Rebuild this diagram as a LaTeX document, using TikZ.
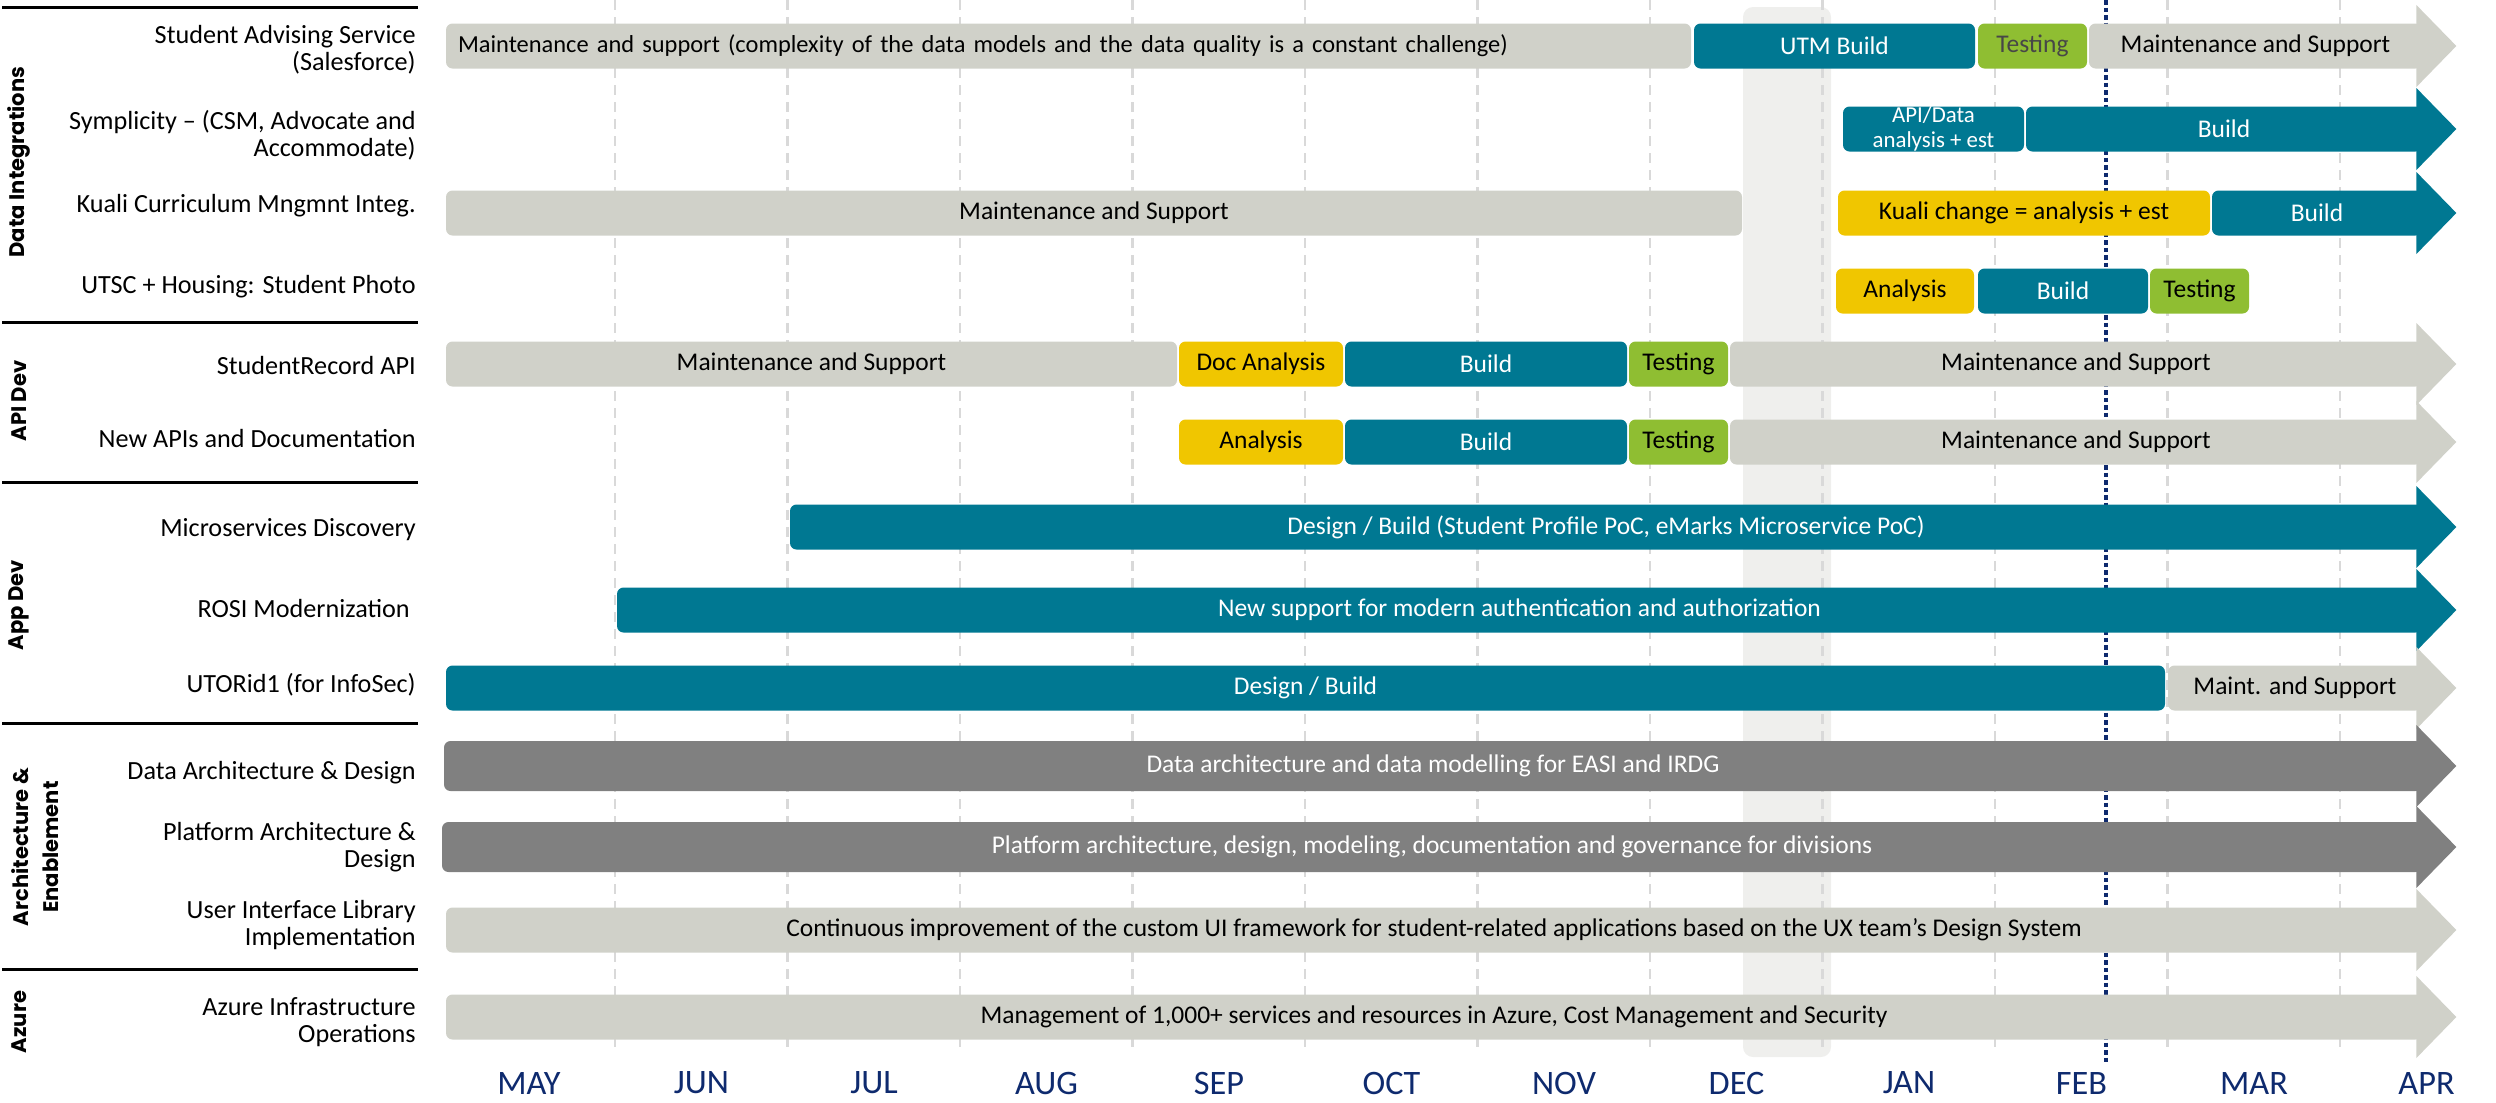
\documentclass[tikz,border=0pt]{standalone}
\usepackage{fontspec}
\setmainfont{Carlito}
\newfontfamily\catfont{Poppins}
\usepackage{tikz}
\usetikzlibrary{positioning}

\definecolor{maintgrey}{HTML}{D0D1C9}
\definecolor{buildteal}{HTML}{007892}
\definecolor{analyellow}{HTML}{F0C600}
\definecolor{testgreen}{HTML}{8FBE32}
\definecolor{archgrey}{HTML}{808080}
\definecolor{decband}{HTML}{EFEFED}
\definecolor{gridgrey}{HTML}{D9D9D9}
\definecolor{monthnavy}{HTML}{0E2A6E}

% one bar of the roadmap: name, style, from x, to x, y, text
\newcommand{\task}[6]{\node[#2, minimum width={(#4-#3)*0.2mm}] (#1) at ({(#3+#4)/2},#5) {#6};}
% arrow head on the right end of a bar
\newcommand{\taskhead}[2]{\fill[#2] (#1.east) ++(-6,-41) -- ++(40,41) -- ++(-40,41) -- cycle;}

\begin{document}
\begin{tikzpicture}[x=0.2mm, y=-0.2mm,
    bar/.style={rounded corners=1.3mm, inner sep=0pt, minimum height=9mm,
        font=\fontsize{14.5}{15}\selectfont},
    maintbar/.style={bar, fill=maintgrey, text=black},
    buildbar/.style={bar, fill=buildteal, text=white},
    analbar/.style={bar, fill=analyellow, text=black},
    testbar/.style={bar, fill=testgreen, text=black},
    archbar/.style={bar, fill=archgrey, text=white, minimum height=10mm},
    rowlabel/.style={anchor=east, align=right, inner sep=0pt,
        font=\fontsize{14.9}{15.6}\selectfont},
    catlabel/.style={rotate=90, align=center, inner sep=0pt,
        font=\catfont\bfseries\fontsize{12}{17}\selectfont},
    monthlabel/.style={text=monthnavy, font=\fontsize{19.5}{20}\selectfont},
    gridline/.style={gridgrey, line width=0.45mm, dash pattern=on 2mm off 1.4mm},
    febline/.style={monthnavy, line width=0.8mm, dash pattern=on 0.9mm off 0.6mm},
    sepline/.style={black, line width=0.6mm}]
    \useasboundingbox (0,0) rectangle (2496,1102);

    % December freeze and month grid
    \fill[decband, rounded corners=2mm] (1743,7) rectangle (1831,1057);
    \foreach \i in {0,...,10}
        \draw[gridline] ({615+172.5*\i},0) -- ({615+172.5*\i},1052);
    \draw[febline] (2106,0) -- (2106,1062);

    % Section rules and names
    \foreach \y in {7,322,482,723,969}
        \draw[sepline] (2,\y) -- (418,\y);
    \node[catlabel] (dint) at (19,162) {Data Integrations};
    \node[catlabel] (apid) at (19,401) {API Dev};
    \node[catlabel] (appd) at (19,605) {App Dev};
    \node[catlabel] (arch) at (35,847) {Architecture \&\\Enablement};
    \node[catlabel] (azur) at (19,1022) {Azure};

    % Row names
    \foreach \y/\txt [count=\i] in {
        50/{Student Advising Service\\(Salesforce)},
        135/{Symplicity -- (CSM, Advocate and\\Accommodate)},
        206/{Kuali Curriculum Mngmnt Integ.},
        287/{UTSC + Housing: Student Photo},
        365/{StudentRecord API},
        438/{New APIs and Documentation},
        530/{Microservices Discovery},
        608/{ROSI Modernization\ },
        685/{UTORid1 (for InfoSec)},
        773/{Data Architecture \& Design},
        847/{Platform Architecture \&\\Design},
        925/{User Interface Library\\Implementation},
        1022/{Azure Infrastructure\\Operations}}
        \node[rowlabel] (row\i) at (416,\y) {\txt};

    % Data Integrations
    \task{sas1}{maintbar, text width={(1691-446-24)*0.2mm}, align=left, font=\fontsize{13.9}{15}\selectfont}{446}{1691}{46}{Maintenance and support (complexity of the data models and the data quality is a constant challenge)}
    \task{sas2}{buildbar}{1694}{1975}{46}{UTM Build}
    \task{sas3}{testbar, text=black!72}{1978}{2087}{46}{Testing}
    \task{sas4}{maintbar}{2089}{2422}{46}{Maintenance and Support}
    \taskhead{sas4}{maintgrey}
    \task{sym1}{buildbar, align=center, font=\fontsize{13}{14.2}\selectfont}{1843}{2024}{129}{API/Data\\analysis + est}
    \task{sym2}{buildbar}{2026}{2422}{129}{Build}
    \taskhead{sym2}{buildteal}
    \task{kua1}{maintbar}{446}{1742}{213}{Maintenance and Support}
    \task{kua2}{analbar}{1838}{2210}{213}{Kuali change = analysis + est}
    \task{kua3}{buildbar}{2212}{2422}{213}{Build}
    \taskhead{kua3}{buildteal}
    \task{pho1}{analbar}{1836}{1974}{291}{Analysis}
    \task{pho2}{buildbar}{1978}{2148}{291}{Build}
    \task{pho3}{testbar}{2150}{2249}{291}{Testing}

    % API Dev
    \task{rec1}{maintbar}{446}{1177}{364}{Maintenance and Support}
    \task{rec2}{analbar}{1179}{1343}{364}{Doc Analysis}
    \task{rec3}{buildbar}{1345}{1627}{364}{Build}
    \task{rec4}{testbar}{1629}{1728}{364}{Testing}
    \task{rec5}{maintbar}{1730}{2422}{364}{Maintenance and Support}
    \taskhead{rec5}{maintgrey}
    \task{new1}{analbar}{1179}{1343}{442}{Analysis}
    \task{new2}{buildbar}{1345}{1627}{442}{Build}
    \task{new3}{testbar}{1629}{1728}{442}{Testing}
    \task{new4}{maintbar}{1730}{2422}{442}{Maintenance and Support}
    \taskhead{new4}{maintgrey}

    % App Dev
    \task{mic1}{buildbar}{790}{2422}{527}{Design / Build (Student Profile PoC, eMarks Microservice PoC)}
    \taskhead{mic1}{buildteal}
    \task{rosi1}{buildbar}{617}{2422}{610}{New support for modern authentication and authorization}
    \taskhead{rosi1}{buildteal}
    \task{uto1}{buildbar}{446}{2165}{688}{Design / Build}
    \task{uto2}{maintbar}{2168}{2422}{688}{Maint. and Support}
    \taskhead{uto2}{maintgrey}

    % Architecture & Enablement
    \task{dat1}{archbar}{444}{2422}{766}{Data architecture and data modelling for EASI and IRDG}
    \taskhead{dat1}{archgrey}
    \task{plat1}{archbar}{442}{2422}{847}{Platform architecture, design, modeling, documentation and governance for divisions}
    \taskhead{plat1}{archgrey}
    \task{ui1}{maintbar}{446}{2422}{930}{Continuous improvement of the custom UI framework for student-related applications based on the UX team’s Design System}
    \taskhead{ui1}{maintgrey}

    % Azure
    \task{az1}{maintbar}{446}{2422}{1017}{Management of 1,000+ services and resources in Azure, Cost Management and Security}
    \taskhead{az1}{maintgrey}

    % Months
    \foreach \m [count=\i from 0] in {MAY,JUN,JUL,AUG,SEP,OCT,NOV,DEC,JAN,FEB,MAR,APR}
        \node[monthlabel] (mon\i) at ({529+172.5*\i},1083) {\m};
\end{tikzpicture}
\end{document}
